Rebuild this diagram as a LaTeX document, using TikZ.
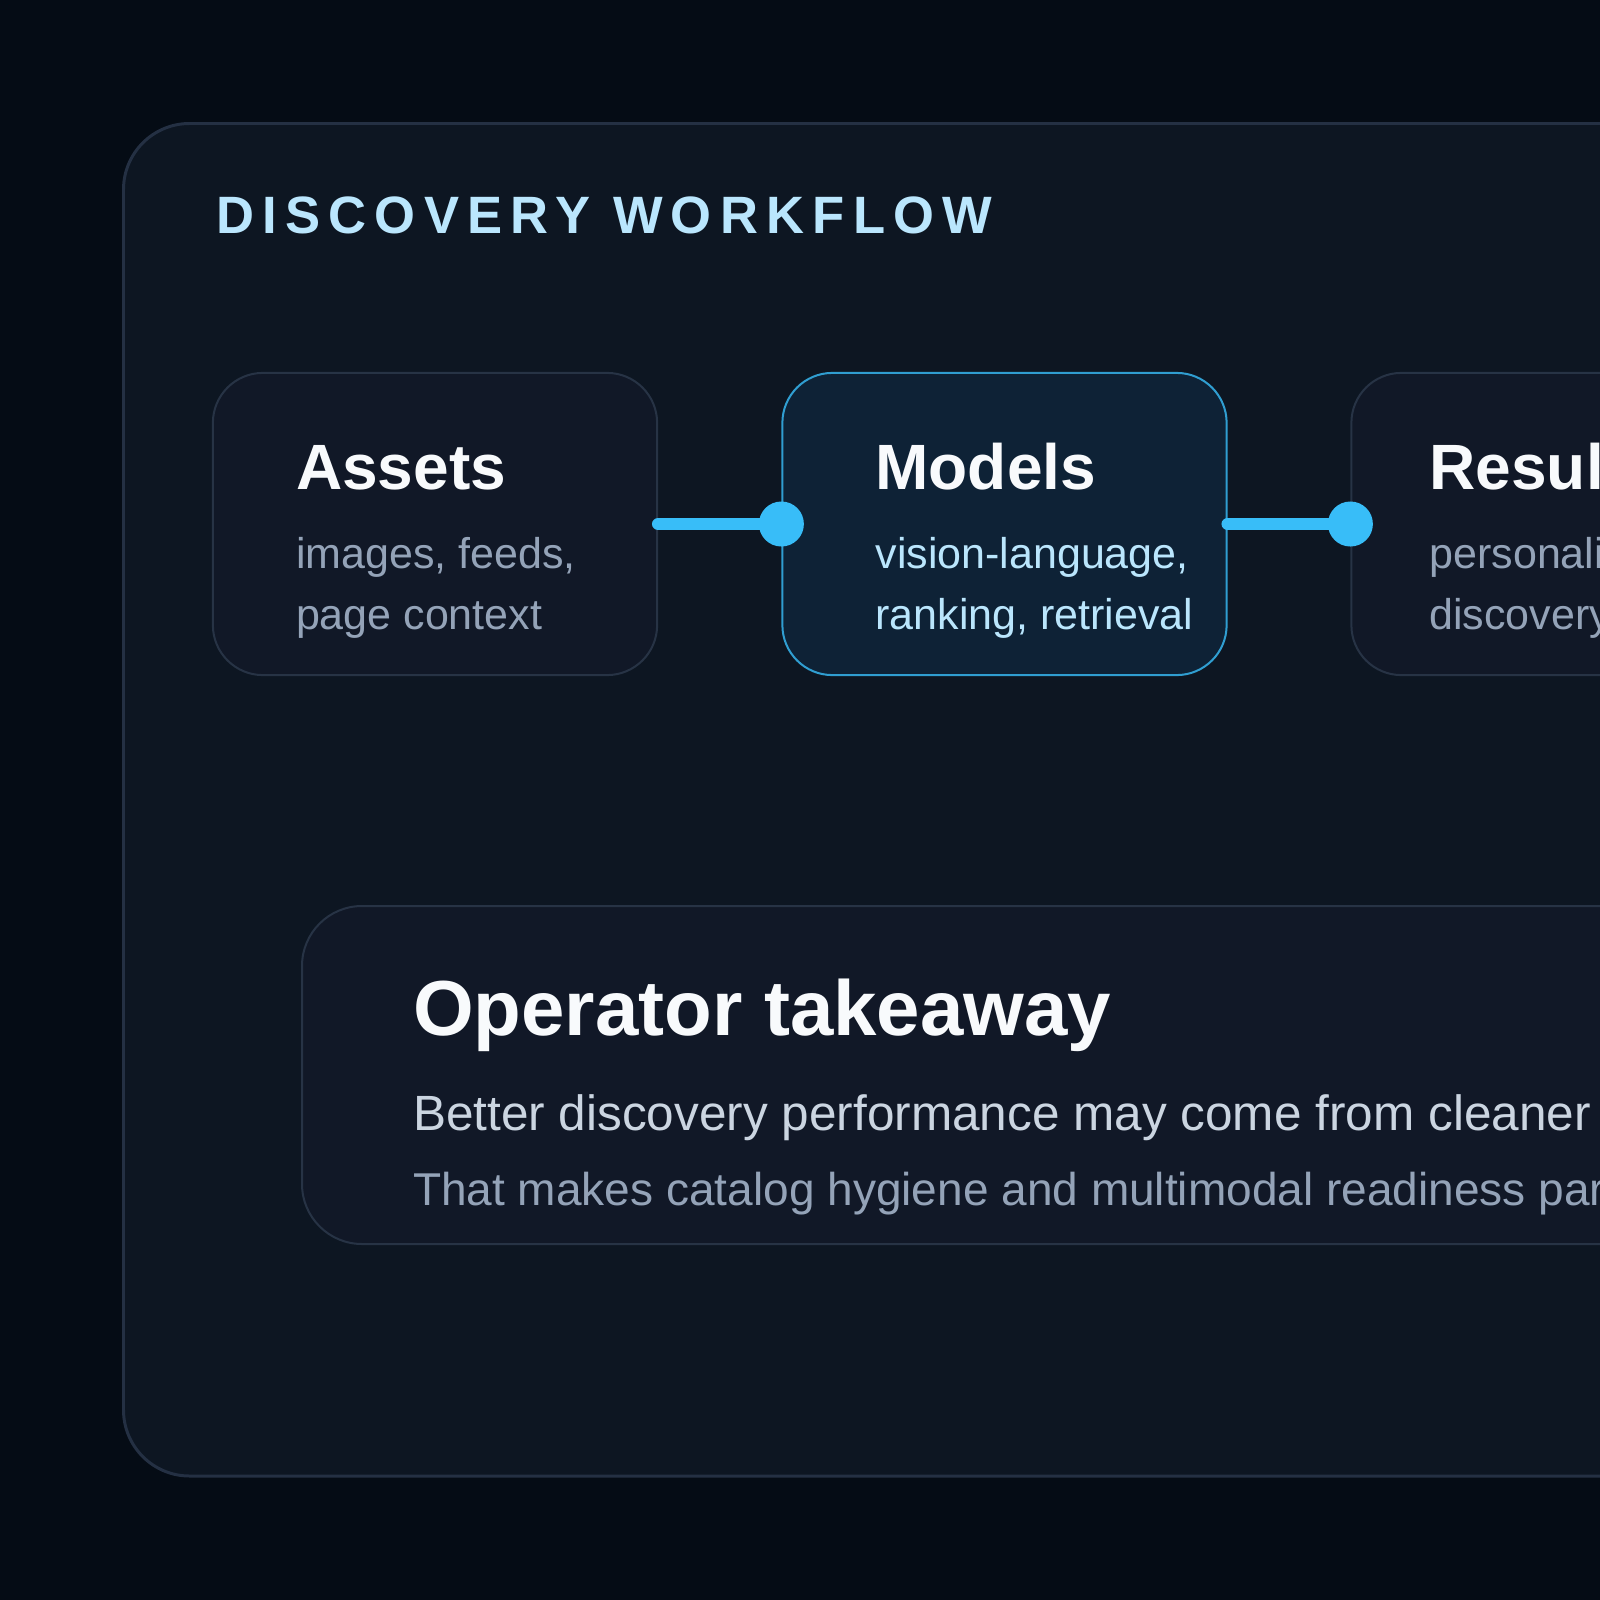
\documentclass[tikz,border=0pt]{standalone}
\usepackage{fontspec}
\setmainfont{Liberation Sans}
\newfontfamily\trackedfont[LetterSpace=15.8]{Liberation Sans}
\definecolor{pagebg}{HTML}{050C15}
\definecolor{panelbg}{HTML}{0D1622}
\definecolor{panelline}{HTML}{243043}
\definecolor{boxbg}{HTML}{111827}
\definecolor{boxline}{HTML}{273345}
\definecolor{hotbg}{HTML}{0E2236}
\definecolor{accent}{HTML}{38BDF8}
\definecolor{paleblue}{HTML}{BAE6FD}
\definecolor{whitetxt}{HTML}{F8FAFC}
\definecolor{graytxt}{HTML}{94A3B8}
\definecolor{lighttxt}{HTML}{CBD5E1}
\tikzset{
  x=0.01cm, y=-0.01cm,
  stagebox/.style={draw=boxline, line width=0.57pt, fill=boxbg, rounded corners=0.5cm,
    minimum width=4.44cm, minimum height=3.02cm, inner sep=0pt},
  hotbox/.style={stagebox, draw=accent!80!hotbg, fill=hotbg},
  txt/.style={anchor=base west, inner sep=0pt, outer sep=0pt},
  stagetitle/.style={txt, text=whitetxt, font=\fontsize{18.21pt}{21pt}\selectfont\bfseries},
  stagesub/.style={txt, text=graytxt, font=\fontsize{12.23pt}{15pt}\selectfont},
  link/.style={draw=accent, line width=3.5pt, line cap=round},
  linkdot/.style={circle, fill=accent, minimum size=0.45cm, inner sep=0pt},
}
\begin{document}
\begin{tikzpicture}
\useasboundingbox (0,0) rectangle (1600,1600);
\clip (0,0) rectangle (1600,1600);
\fill[pagebg] (0,0) rectangle (1600,1600);
% outer panel
\draw[panelline, line width=0.85pt, fill=panelbg, rounded corners=0.66cm] (123.5,123.5) rectangle (1800,1476);
\node[txt, text=paleblue, font=\fontsize{14.95pt}{18pt}\selectfont\bfseries\trackedfont] (title) at (216,233) {DISCOVERY WORKFLOW};
% stages
\node[stagebox] (assets) at (435,524) {};
\node[hotbox] (models) at (1004.5,524) {};
\node[stagebox] (results) at (1573.5,524) {};
\node[stagetitle] (assetsT) at (296,489) {Assets};
\node[stagesub] (assetsA) at (296,568) {images, feeds,};
\node[stagesub] (assetsB) at (296,629) {page context};
\node[stagetitle] (modelsT) at (875.5,489) {Models};
\node[stagesub, text=paleblue] (modelsA) at (875.5,568) {vision-language,};
\node[stagesub, text=paleblue] (modelsB) at (875.5,629) {ranking, retrieval};
\node[stagetitle] (resultsT) at (1429.5,489) {Results};
\node[stagesub] (resultsA) at (1429.5,568) {personalized,};
\node[stagesub] (resultsB) at (1429.5,629) {discovery};
% connectors
\draw[link] (assets.east) -- (models.west);
\node[linkdot] (dot1) at (models.west) {};
\draw[link] (models.east) -- (results.west);
\node[linkdot] (dot2) at (results.west) {};
% takeaway
\draw[boxline, line width=0.57pt, fill=boxbg, rounded corners=0.6cm] (302,906) rectangle (1800,1244);
\node[txt, text=whitetxt, font=\fontsize{22.19pt}{26pt}\selectfont\bfseries] (takeT) at (413,1035) {Operator takeaway};
\node[txt, text=lighttxt, font=\fontsize{14.08pt}{17pt}\selectfont] (takeA) at (413,1130) {Better discovery performance may come from cleaner};
\node[txt, text=graytxt, font=\fontsize{13.09pt}{16pt}\selectfont] (takeB) at (413,1205) {That makes catalog hygiene and multimodal readiness par};
\end{tikzpicture}
\end{document}
